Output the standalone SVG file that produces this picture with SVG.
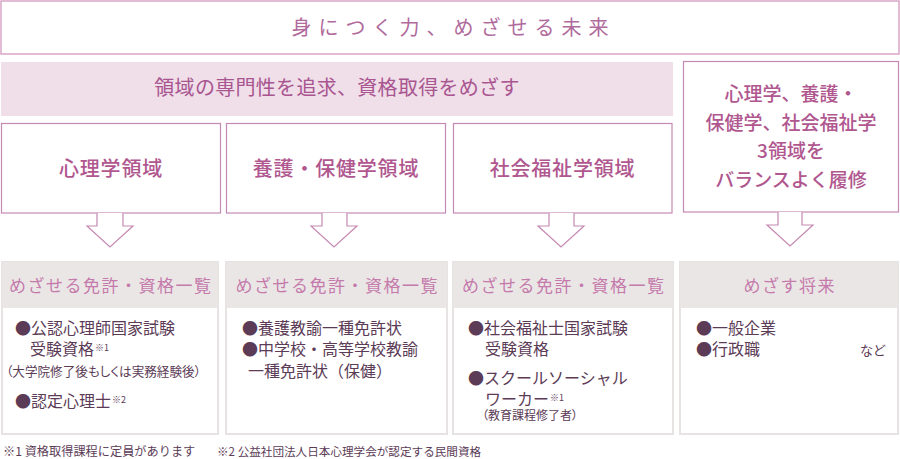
<svg xmlns="http://www.w3.org/2000/svg" width="900" height="459" viewBox="0 0 900 459">
<style>
text{font-family:"Noto Sans CJK JP","Noto Sans",sans-serif;}
.title{font-size:20px;fill:#b06a9c;letter-spacing:7px;}
.band{font-size:20px;fill:#a85590;letter-spacing:0.3px;}
.dom{font-size:20px;fill:#b0578f;letter-spacing:0.8px;font-weight:500;}
.dom4{font-size:19px;fill:#b0578f;font-weight:500;}
.hdr{font-size:17px;fill:#c47aab;letter-spacing:1.5px;}
.body{font-size:16px;fill:#5b3b56;}
.small{font-size:12px;fill:#5b3b56;font-feature-settings:"palt";}
.sup{font-size:9px;}
.note{font-size:11.6px;fill:#5b3b56;}
.dbox{fill:#fff;stroke:#c58ab2;stroke-width:1.2;}
.card{fill:#fff;stroke:#e8e3e3;stroke-width:2;}
.chdr{fill:#ebe6e6;}
.arrow{fill:#fff;stroke:#c58ab2;stroke-width:1.2;stroke-linejoin:miter;}
</style>

<g id="title">
<rect x="1" y="1" width="898" height="53" fill="#fff" stroke="#d7a6c6" stroke-width="1.5"/>
<text class="title" x="453.5" y="35" text-anchor="middle">身につく力、めざせる未来</text>
</g>

<g id="band">
<rect x="1" y="62" width="672" height="54" fill="#f0dee9"/>
<text class="band" x="337" y="95" text-anchor="middle">領域の専門性を追求、資格取得をめざす</text>
</g>

<g id="domain-psych">
<rect class="dbox" x="1.5" y="123.5" width="219" height="89.5"/>
<text class="dom" x="111" y="176" text-anchor="middle">心理学領域</text>
</g>
<g id="domain-health">
<rect class="dbox" x="226.5" y="123.5" width="219" height="89.5"/>
<text class="dom" x="336" y="176" text-anchor="middle">養護・保健学領域</text>
</g>
<g id="domain-welfare">
<rect class="dbox" x="453.5" y="123.5" width="218.5" height="89.5"/>
<text class="dom" x="562.5" y="176" text-anchor="middle">社会福祉学領域</text>
</g>
<g id="domain-all">
<rect class="dbox" x="683.5" y="61.5" width="215" height="150.5"/>
<text class="dom4" x="791" y="101" text-anchor="middle">心理学、養護・</text>
<text class="dom4" x="791" y="130" text-anchor="middle">保健学、社会福祉学</text>
<text class="dom4" x="791" y="158" text-anchor="middle">3領域を</text>
<text class="dom4" x="791" y="187" text-anchor="middle">バランスよく履修</text>
</g>

<g id="connectors">
<polyline class="arrow" points="97,213 97,226 87,226 110,247 133,226 123,226 123,213"/>
<polyline class="arrow" points="322,213 322,226 311,226 334,247 357,226 347,226 347,213"/>
<polyline class="arrow" points="549,213 549,226 538,226 561,247 584,226 574,226 574,213"/>
<polyline class="arrow" points="778,212 778,225 767,225 790,246 813,225 802,225 802,212"/>
</g>

<g id="card-psych">
<rect class="card" x="2" y="262" width="216" height="172"/>
<rect class="chdr" x="2" y="262" width="216" height="46"/>
<text class="hdr" x="110.75" y="292" text-anchor="middle">めざせる免許・資格一覧</text>
<text class="body" x="15" y="334">●公認心理師国家試験</text>
<text class="body" x="30" y="355">受験資格<tspan class="sup" dx="1" dy="-4">※1</tspan></text>
<text class="small" x="6" y="376" style="font-size:12.6px">（大学院修了後もしくは実務経験後）</text>
<text class="body" x="15" y="407">●認定心理士<tspan class="sup" dx="1" dy="-4">※2</tspan></text>
</g>

<g id="card-health">
<rect class="card" x="226" y="262" width="221" height="172"/>
<rect class="chdr" x="226" y="262" width="221" height="46"/>
<text class="hdr" x="337.25" y="292" text-anchor="middle">めざせる免許・資格一覧</text>
<text class="body" x="242" y="334">●養護教諭一種免許状</text>
<text class="body" x="242" y="355">●中学校・高等学校教諭</text>
<text class="body" x="248" y="376.5">一種免許状（保健）</text>
</g>

<g id="card-welfare">
<rect class="card" x="453" y="262" width="220" height="172"/>
<rect class="chdr" x="453" y="262" width="220" height="46"/>
<text class="hdr" x="563.75" y="292" text-anchor="middle">めざせる免許・資格一覧</text>
<text class="body" x="468" y="334">●社会福祉士国家試験</text>
<text class="body" x="485" y="355">受験資格</text>
<text class="body" x="468" y="384">●スクールソーシャル</text>
<text class="body" x="485" y="405">ワーカー<tspan class="sup" dx="1" dy="-4">※1</tspan></text>
<text class="small" x="482" y="420">（教育課程修了者）</text>
</g>

<g id="card-future">
<rect class="card" x="680" y="262" width="218" height="172"/>
<rect class="chdr" x="680" y="262" width="218" height="46"/>
<text class="hdr" x="789.75" y="292" text-anchor="middle">めざす将来</text>
<text class="body" x="696" y="334">●一般企業</text>
<text class="body" x="696" y="355">●行政職</text>
<text class="body" x="860" y="355" style="font-size:13px">など</text>
</g>

<g id="notes">
<text class="note" x="3" y="456" style="font-size:12.2px">※1 資格取得課程に定員があります</text>
<text class="note" x="217" y="456">※2 公益社団法人日本心理学会が認定する民間資格</text>
</g>
</svg>
